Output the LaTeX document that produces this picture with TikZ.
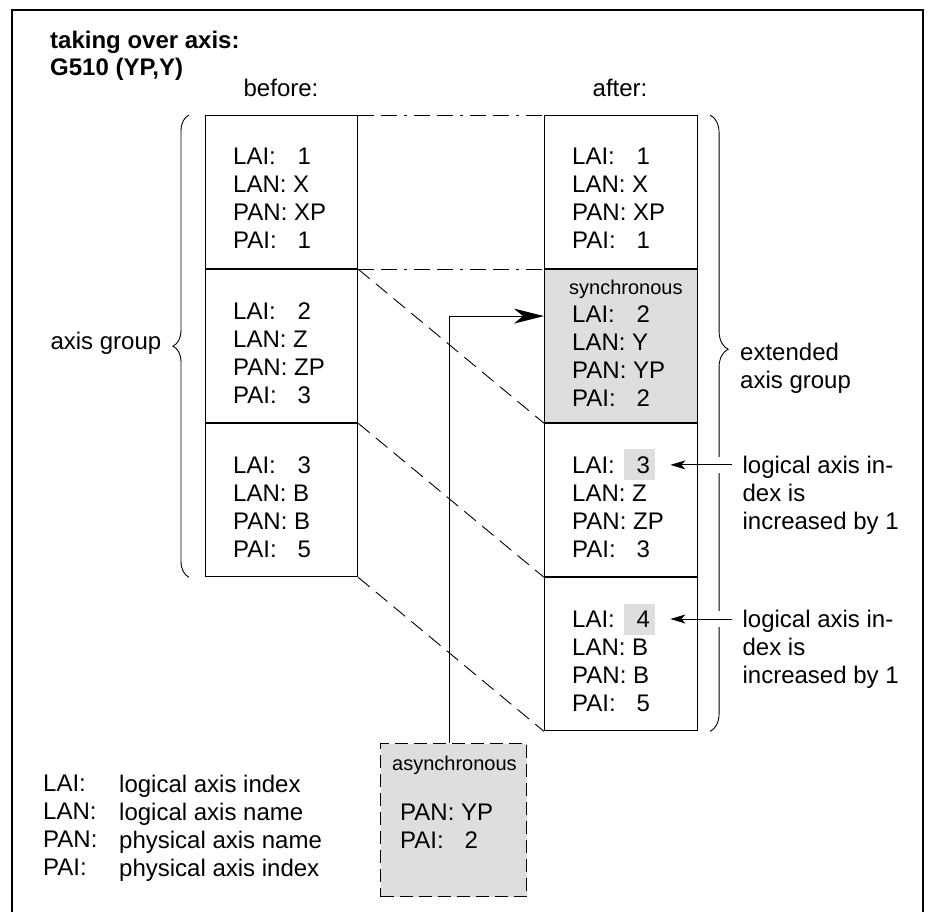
\documentclass[tikz,border=0pt]{standalone}
\usepackage{fontspec}
\setmainfont{Liberation Sans}
\usetikzlibrary{arrows.meta, positioning, decorations.pathreplacing}

% label with the value set at a fixed tab
\newcommand{\axi}[2]{\makebox[2.68em][l]{#1}#2}

\begin{document}
\begin{tikzpicture}[x=1pt, y=-1pt,
    font=\fontsize{24}{28}\selectfont,
    cell/.style={rectangle, draw, line width=1.1pt, inner sep=0pt, anchor=north west,
                 minimum width=152pt, minimum height=153pt},
    sync/.style={fill=black!13},
    async/.style={cell, fill=black!13, dash pattern=on 13pt off 6pt,
                  minimum width=146pt, minimum height=153pt},
    entry/.style={align=left, inner sep=0pt, anchor=north west},
    head/.style={entry, font=\fontsize{24}{27}\selectfont\bfseries},
    note/.style={inner sep=0pt, anchor=north west, font=\fontsize{20}{22}\selectfont},
    hl/.style={fill=black!13, minimum size=31pt, inner sep=0pt, anchor=north west},
    gap/.style={fill=white, inner sep=0pt, minimum width=5pt, minimum height=16pt},
    guide/.style={line width=0.9pt, dash pattern=on 16pt off 7pt on 16pt off 7pt on 3pt off 7pt},
    move/.style={line width=0.9pt, dash pattern=on 15pt off 8pt},
    brc/.style={decorate, decoration={brace, amplitude=16pt}, line width=0.9pt},
    arr/.style={-{Stealth[length=30pt, width=15pt, inset=9pt]}, line width=1pt},
    tip/.style={-{Stealth[length=15pt, width=9pt, inset=4pt]}, line width=1pt}
]
\useasboundingbox (0,0) rectangle (930,912);

% frame, open at the bottom
\draw[line width=1.8pt] (12,912) -- (12,10) -- (923,10) -- (923,912);

\node[head] (title) at (50,31) {taking over axis:\\G510 (YP,Y)};
\node[anchor=base] (before) at (281,97) {before:};
\node[anchor=base] (after) at (620,97) {after:};

% axis group before G510
\node[cell] (b1) at (205,115) {};
\node[cell, below=0pt of b1] (b2) {};
\node[cell, below=0pt of b2] (b3) {};

% axis group after G510
\node[cell, minimum width=153pt] (a1) at (544,115) {};
\node[cell, sync, minimum width=153pt, below=0pt of a1] (a2) {};
\node[cell, minimum width=153pt, below=0pt of a2] (a3) {};
\node[cell, minimum width=153pt, below=0pt of a3] (a4) {};

\node[hl, below right=26pt and 80pt of a3.north west] (h3) {};
\node[hl, below right=26pt and 80pt of a4.north west] (h4) {};

\node[entry, below right=33pt and 28pt of b1.north west] (tb1) {\axi{LAI:}{1}\\LAN: X\\PAN: XP\\\axi{PAI:}{1}};
\node[entry, below right=33pt and 28pt of b2.north west] (tb2) {\axi{LAI:}{2}\\LAN: Z\\PAN: ZP\\\axi{PAI:}{3}};
\node[entry, below right=33pt and 28pt of b3.north west] (tb3) {\axi{LAI:}{3}\\LAN: B\\PAN: B\\\axi{PAI:}{5}};

\node[entry, below right=33pt and 28pt of a1.north west] (ta1) {\axi{LAI:}{1}\\LAN: X\\PAN: XP\\\axi{PAI:}{1}};
\node[note, below right=11pt and 25pt of a2.north west] (syn) {synchronous};
\node[entry, below right=36pt and 28pt of a2.north west] (ta2) {\axi{LAI:}{2}\\LAN: Y\\PAN: YP\\\axi{PAI:}{2}};
\node[entry, below right=33pt and 28pt of a3.north west] (ta3) {\axi{LAI:}{3}\\LAN: Z\\PAN: ZP\\\axi{PAI:}{3}};
\node[entry, below right=33pt and 28pt of a4.north west] (ta4) {\axi{LAI:}{4}\\LAN: B\\PAN: B\\\axi{PAI:}{5}};

% how the entries move
\draw[guide] (b1.north east) -- (a1.north west);
\draw[guide] (b1.south east) -- (a1.south west);
\draw[move] (b2.north east) -- (a2.south west);
\draw[move] (b3.north east) -- (a3.south west);
\draw[move] (b3.south east) -- (a4.south west);

% braces
\draw[brc] ([xshift=-16pt]b3.south west) -- ([xshift=-16pt]b1.north west);
\draw[brc, decoration={amplitude=18pt, aspect=0.38}] ([xshift=12pt]a1.north east) -- ([xshift=12pt]a4.south east);
\node[anchor=base west] (grp) at (47,350) {axis group};
\node[entry] (ext) at (740,343) {extended\\axis group};

% axis taken over
\node[async] (asy) at (380,743) {};
\node[note, below right=13pt and 12pt of asy.north west] (asyn) {asynchronous};
\node[entry, below right=61pt and 20pt of asy.north west] (tasy) {PAN: YP\\\axi{PAI:}{2}};
\coordinate (in) at ([yshift=-47pt]a2.north west);
\draw[arr] ([xshift=-4pt]asy.north) |- (in);

% index increased
\coordinate[right=77pt of h3.east] (c3);
\coordinate[right=77pt of h4.east] (c4);
\node[gap] at ([xshift=-14pt]c3) {};
\node[gap] at ([xshift=-14pt]c4) {};
\draw[tip] (c3) -- ([xshift=15pt]h3.east);
\draw[tip] (c4) -- ([xshift=15pt]h4.east);
\node[entry] (n3) at ([shift={(10,-9)}]c3) {logical axis in-\\dex is\\increased by 1};
\node[entry] (n4) at ([shift={(10,-9)}]c4) {logical axis in-\\dex is\\increased by 1};

% legend
\node[entry] (keys) at (43,775) {LAI:\\LAN:\\PAN:\\PAI:};
\node[entry] (desc) at (119,775) {logical axis index\\logical axis name\\physical axis name\\physical axis index};
\end{tikzpicture}
\end{document}
